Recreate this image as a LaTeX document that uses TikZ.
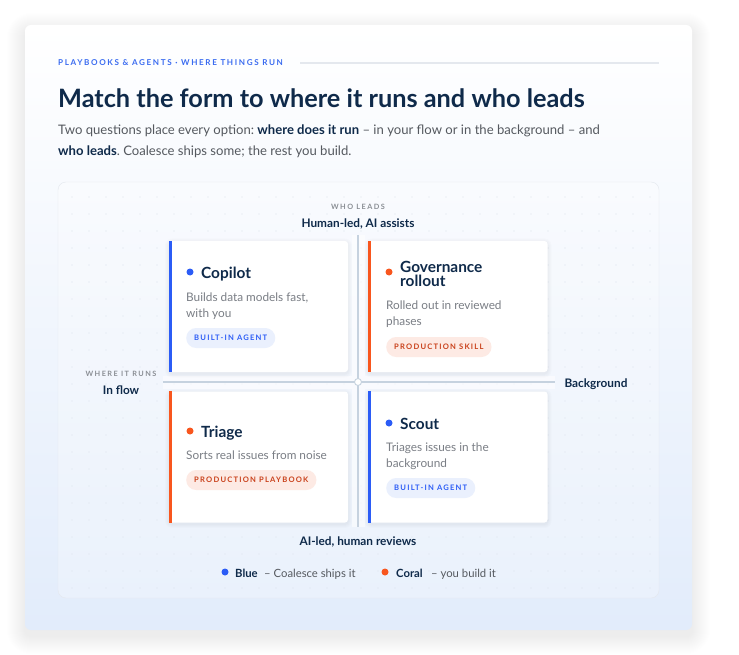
\documentclass[tikz,border=0pt]{standalone}
\usepackage{fontspec}
\setmainfont{Lato}
\newfontfamily\trackfont[LetterSpace=16]{Lato}
\newfontfamily\widetrackfont[LetterSpace=20]{Lato}
\usetikzlibrary{positioning}
\definecolor{navy}{HTML}{0F2A4A}
\definecolor{accblue}{HTML}{2B5CF6}
\definecolor{coral}{HTML}{F8561E}
\definecolor{eyeblue}{HTML}{3A6BF0}
\definecolor{bodygray}{HTML}{55595F}
\definecolor{descgray}{HTML}{7A7E85}
\definecolor{tinygray}{HTML}{8A8E94}
\definecolor{cardbot}{HTML}{E2ECFB}
\definecolor{axisc}{HTML}{C6D2DF}
\definecolor{dotc}{HTML}{DCE3EC}
\definecolor{pillblue}{HTML}{EAF0FD}
\definecolor{pillcoral}{HTML}{FDEAE4}
\definecolor{coraltext}{HTML}{C9401A}
\definecolor{rulec}{HTML}{E4E8EE}

\begin{document}
\frenchspacing
\begin{tikzpicture}[
	x=1pt,
	y=-1pt,
	frame/.style={rectangle, rounded corners=6pt, top color=white, bottom color=cardbot, minimum width=667, minimum height=605, inner sep=0pt},
	grid panel/.style={rectangle, rounded corners=8pt, draw=rulec, fill=white, fill opacity=0.25, minimum width=601, minimum height=416, inner sep=0pt},
	card/.style={rectangle, rounded corners=3pt, fill=white, minimum width=179, minimum height=131, inner sep=0pt},
	eyebrow/.style={font=\widetrackfont\bfseries\fontsize{8.1}{9}\selectfont, text=eyeblue, anchor=base west, inner sep=0pt},
	headline/.style={font=\bfseries\fontsize{25.3}{28}\selectfont, text=navy, anchor=base west, inner sep=0pt},
	lede/.style={font=\fontsize{13.1}{15}\selectfont, text=bodygray, anchor=base west, inner sep=0pt},
	axis tag/.style={font=\widetrackfont\bfseries\fontsize{7.3}{8}\selectfont, text=tinygray, anchor=base, inner sep=0pt},
	axis name/.style={font=\bfseries\fontsize{11.8}{13}\selectfont, text=navy, anchor=base, inner sep=0pt},
	card title/.style={font=\bfseries\fontsize{15.4}{16}\selectfont, text=navy, anchor=base west, inner sep=0pt, align=left},
	desc/.style={font=\fontsize{11.8}{16}\selectfont, text=descgray, anchor=base west, inner sep=0pt, align=left},
	pill/.style={rectangle, rounded corners=10pt, minimum height=20, inner xsep=8pt, inner ysep=0pt, anchor=west, font=\trackfont\bfseries\fontsize{7.6}{9}\selectfont},
	blue pill/.style={pill, fill=pillblue, text=accblue},
	coral pill/.style={pill, fill=pillcoral, text=coraltext},
	bullet/.style={circle, inner sep=0pt, minimum size=7},
	key name/.style={font=\bfseries\fontsize{11.3}{12}\selectfont, text=navy, anchor=base west, inner sep=0pt},
	key text/.style={font=\fontsize{11.3}{12}\selectfont, text=bodygray, anchor=base west, inner sep=0pt}
	]
	\useasboundingbox (0,0) rectangle (739,655);
	\fill[white] (0,0) rectangle (739,655);

	% soft shadow under the card
	\foreach \k in {1,...,18}
		\fill[black, opacity=0.005, rounded corners={(6+\k)*1pt}] (25-\k,31-\k) rectangle (692+\k,636+\k);

	% card and panel
	\node[frame] (frame) at (358.5,327.5) {};
	\node[grid panel] (panel) at (358.5,390) {};
	\foreach \i in {0,...,34}
		\foreach \j in {0,...,23}
			\fill[dotc] (72+17*\i,197+17*\j) circle (0.55);

	% header
	\node[eyebrow] (eyebrow) at (58,66) {PLAYBOOKS \& AGENTS · WHERE THINGS RUN};
	\coordinate (rule a) at (300,63);
	\coordinate (rule b) at (659,63);
	\draw[rulec, line width=1.2pt] (rule a) -- (rule b);
	\node[headline] (title) at (58,108) {Match the form to where it runs and who leads};
	\node[lede] (lede1) at (58,135) {Two questions place every option: \textcolor{navy}{\bfseries where does it run} – in your flow or in the background – and};
	\node[lede] (lede2) at (58,156) {\textcolor{navy}{\bfseries who leads}. Coalesce ships some; the rest you build.};

	% axes
	\coordinate (ax top) at (358,235);
	\coordinate (ax bot) at (358,527);
	\coordinate (ax left) at (163,382);
	\coordinate (ax right) at (555,382);
	\draw[white, opacity=0.55, line width=13pt] (ax top) -- (ax bot) (ax left) -- (ax right);
	\draw[axisc, line width=1.1pt] (ax top) -- (ax bot) (ax left) -- (ax right);
	\node[circle, draw=axisc, fill=white, line width=0.9pt, minimum size=7, inner sep=0pt] (origin) at (358,382) {};

	\node[axis tag] (who) at (358,210) {WHO LEADS};
	\node[axis name] (human) at (358,228) {Human-led, AI assists};
	\node[axis tag] (where) at (121,376) {WHERE IT RUNS};
	\node[axis name] (inflow) at (121,394) {In flow};
	\node[axis name] (bg) at (596,387) {Background};
	\node[axis name] (ailed) at (358,545) {AI-led, human reviews};

	% quadrant cards
	\foreach \cx/\cy in {258.5/306.5, 458/306.5, 258.5/457, 458/457}
		\foreach \k in {1,...,4}
			\fill[black, opacity=0.012, rounded corners={(3+\k)*1pt}] (\cx-89.5-\k,\cy-65.5-\k+1.5) rectangle (\cx+89.5+\k,\cy+65.5+\k+1.5);
	\node[card] (copilot) at (258.5,306.5) {};
	\node[card] (gov) at (458,306.5) {};
	\node[card] (triage) at (258.5,457) {};
	\node[card] (scout) at (458,457) {};
	\fill[accblue] (copilot.north west) rectangle ([xshift=3pt]copilot.south west);
	\fill[coral] (gov.north west) rectangle ([xshift=3pt]gov.south west);
	\fill[coral] (triage.north west) rectangle ([xshift=3pt]triage.south west);
	\fill[accblue] (scout.north west) rectangle ([xshift=3pt]scout.south west);

	\node[bullet, fill=accblue] (copilot dot) at (190,272) {};
	\node[card title] (copilot name) at (201,278) {Copilot};
	\node[desc] (copilot desc) at (186,317) {Builds data models fast,\\with you};
	\node[blue pill] (copilot tag) at (186,338) {BUILT-IN AGENT};

	\node[bullet, fill=coral] (gov dot) at (389,272) {};
	\node[card title] (gov name) at (400,287) {Governance\\[-1.5pt]rollout};
	\node[desc] (gov desc) at (386,325) {Rolled out in reviewed\\phases};
	\node[coral pill] (gov tag) at (386,347) {PRODUCTION SKILL};

	\node[bullet, fill=coral] (triage dot) at (190,431) {};
	\node[card title] (triage name) at (201,437) {Triage};
	\node[desc] (triage desc) at (186,459) {Sorts real issues from noise};
	\node[coral pill] (triage tag) at (186,480) {PRODUCTION PLAYBOOK};

	\node[bullet, fill=accblue] (scout dot) at (389,423) {};
	\node[card title] (scout name) at (400,429) {Scout};
	\node[desc] (scout desc) at (386,467) {Triages issues in the\\background};
	\node[blue pill] (scout tag) at (386,488) {BUILT-IN AGENT};

	% legend
	\node[bullet, fill=accblue] (key blue) at (225,572) {};
	\node[key name] (key blue name) at (235,577) {Blue};
	\node[key text] (key blue text) at (264,577) {– Coalesce ships it};
	\node[bullet, fill=coral] (key coral) at (385,572) {};
	\node[key name] (key coral name) at (396,577) {Coral};
	\node[key text] (key coral text) at (431,577) {– you build it};
\end{tikzpicture}
\end{document}
